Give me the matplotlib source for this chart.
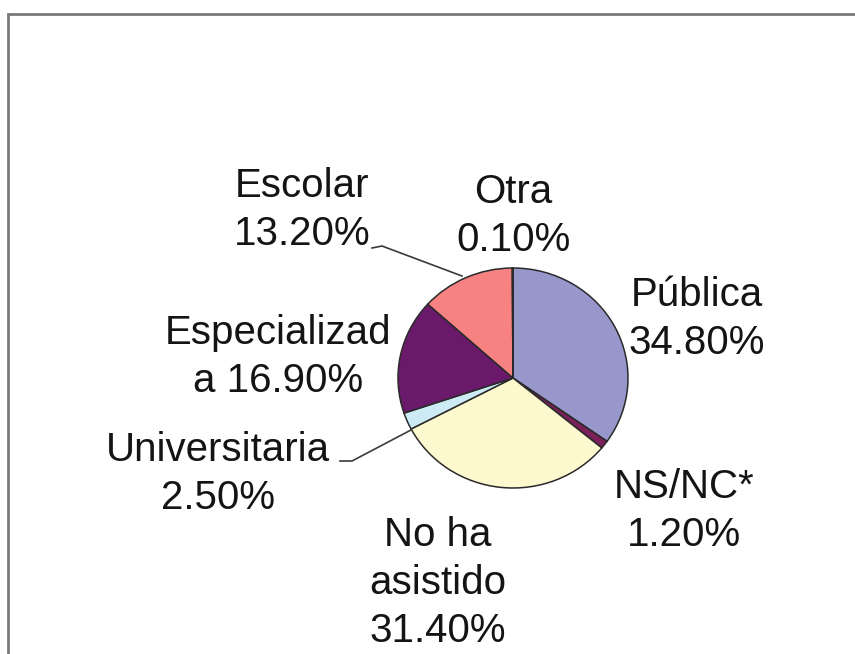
import matplotlib.pyplot as plt
from matplotlib.patches import Rectangle
from matplotlib.lines import Line2D

plt.rcParams['font.family'] = ['Liberation Sans', 'DejaVu Sans']

# datos (porcentajes), en el orden del reloj desde arriba
categorias = ['Pública', 'NS/NC*', 'No ha asistido', 'Universitaria',
              'Especializada', 'Escolar', 'Otra']
valores = [34.8, 1.2, 31.4, 2.5, 16.9, 13.2, 0.1]
colores = ['#9797CC', '#7A1F5A', '#FDF8CE', '#CDEBF4', '#6B1A6B', '#F68282', '#3A3A8A']
etiquetas = ['Pública\n34.80%', 'NS/NC*\n1.20%', 'No ha\nasistido\n31.40%',
             'Universitaria\n2.50%', 'Especializad\na 16.90%', 'Escolar\n13.20%',
             'Otra\n0.10%']

W, H = 855, 654
fig = plt.figure(figsize=(W / 100, H / 100), dpi=100)
fig.patch.set_facecolor('white')


def px(x, y):
    # pixeles (desde arriba a la izquierda) -> coordenadas de figura
    return x / W, 1 - y / H


# marco del grafico
fig.patches.append(Rectangle(px(8, 700), 900 / W, (700 - 14) / H,
                             transform=fig.transFigure, fill=False,
                             edgecolor='#7a7a7a', linewidth=2))

# pastel
cx, cy, rx, ry = 513, 378, 115, 110
ax = fig.add_axes([(cx - rx) / W, 1 - (cy + ry) / H, 2 * rx / W, 2 * ry / H])
ax.pie(valores, colors=colores, startangle=90, counterclock=False, radius=1,
       wedgeprops=dict(edgecolor='#2a2a2a', linewidth=1.1))
ax.set_aspect('auto')
ax.set_xlim(-1, 1)
ax.set_ylim(-1, 1)
ax.axis('off')

# posiciones de las etiquetas (centro x, borde superior y) en pixeles
pos = {
    'Pública': (697, 276),
    'NS/NC*': (684, 468),
    'No ha asistido': (438, 516),
    'Universitaria': (218, 431),
    'Especializada': (278, 314),
    'Escolar': (302, 167),
    'Otra': (513, 173),
}
for cat, lab in zip(categorias, etiquetas):
    x, y = pos[cat]
    fig.text(*px(x, y), lab, ha='center', va='top', fontsize=29,
             color='#141414', linespacing=1.33, multialignment='center')

# lineas guia
for xs, ys in [([372, 382, 462], [248, 246, 276]),
               ([340, 352, 411], [461, 461, 430])]:
    pts = [px(a, b) for a, b in zip(xs, ys)]
    fig.lines.append(Line2D([p[0] for p in pts], [p[1] for p in pts],
                            transform=fig.transFigure, color='#3a3a3a',
                            linewidth=1.2))

fig.savefig('out.png', dpi=100, facecolor='white')
